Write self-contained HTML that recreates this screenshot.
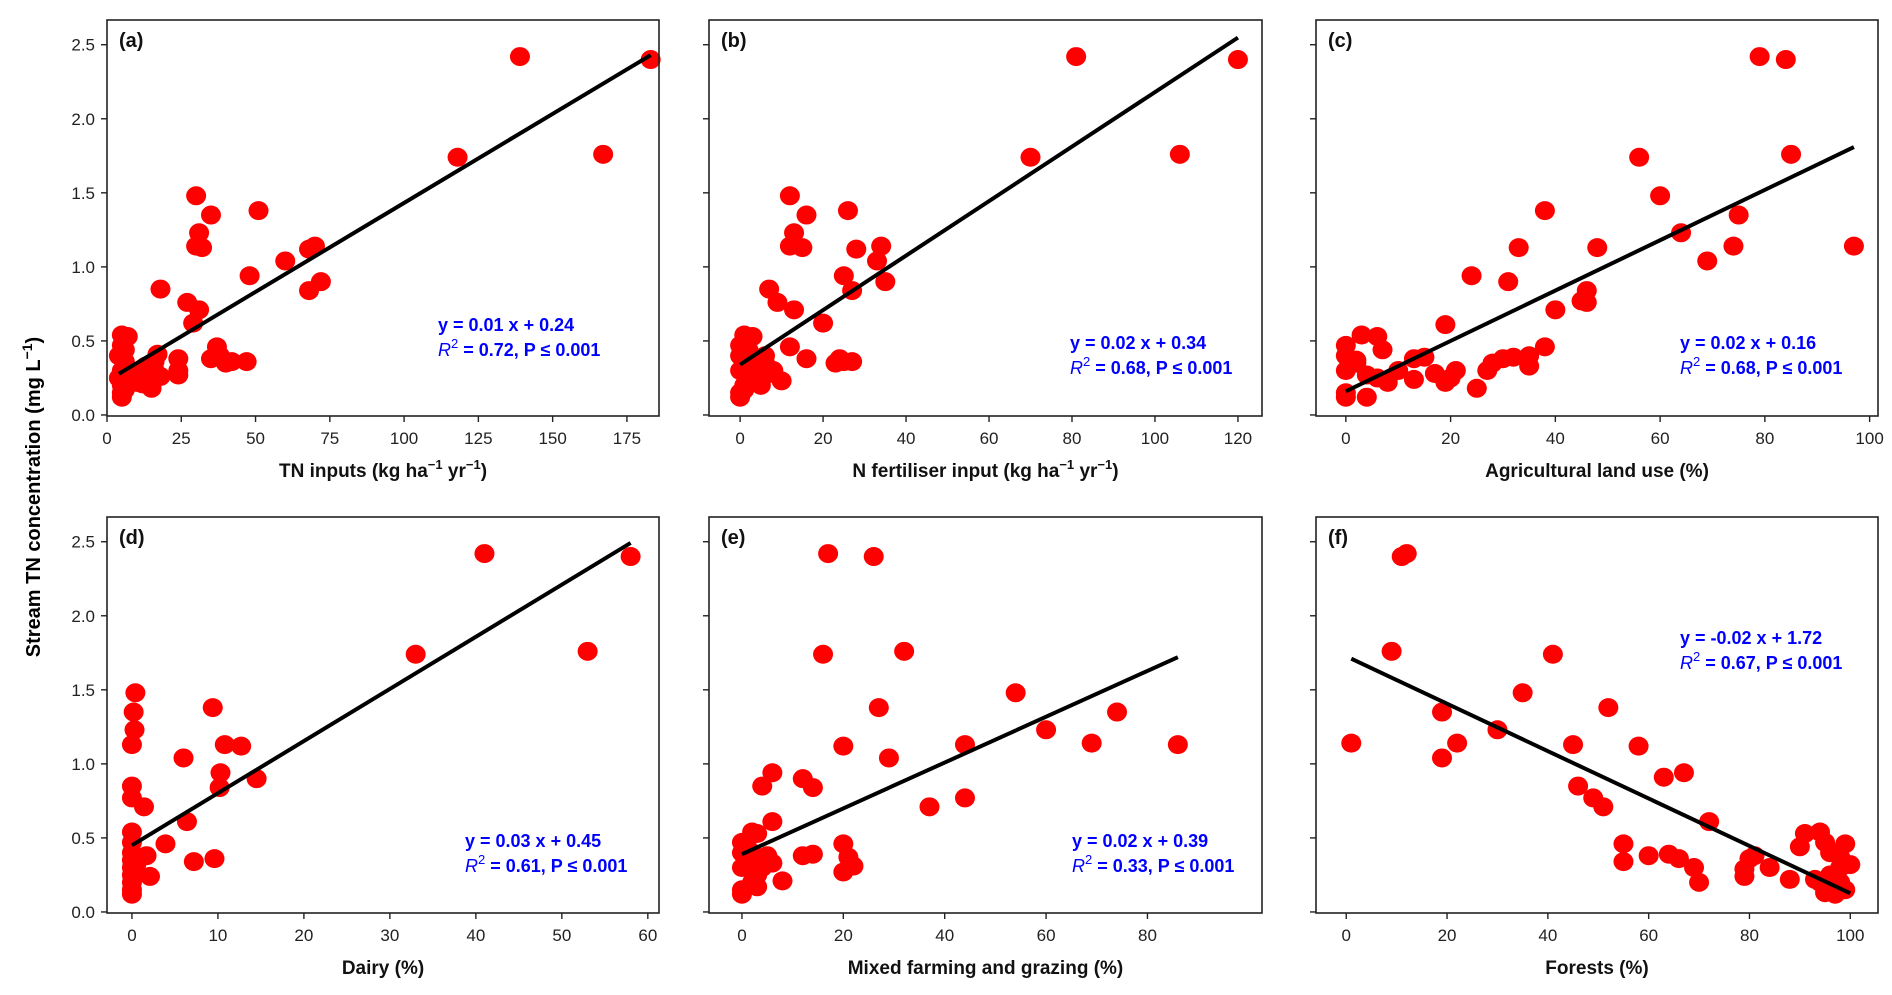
<!DOCTYPE html>
<html><head><meta charset="utf-8">
<style>
html,body{margin:0;padding:0;background:#fff;}
svg{display:block;font-family:"Liberation Sans",Arial,sans-serif;}
</style></head>
<body>
<svg id="fig" width="1892" height="995" viewBox="0 0 1892 995" xmlns="http://www.w3.org/2000/svg">
<text x="0" y="0" transform="translate(40,497) rotate(-90)" text-anchor="middle" font-size="20" font-weight="bold">Stream TN concentration (mg L<tspan font-size="14" dy="-8">−1</tspan><tspan dy="8">)</tspan></text>
</svg>
<script>
// ---- data ----
const panelLabels = ["(a)","(b)","(c)","(d)","(e)","(f)"];
const xTitles = ["TN inputs (kg ha|−1| yr|−1|)","N fertiliser input (kg ha|−1| yr|−1|)","Agricultural land use (%)","Dairy (%)","Mixed farming and grazing (%)","Forests (%)"];
const eqLines = ["y = 0.01 x + 0.24","y = 0.02 x + 0.34","y = 0.02 x + 0.16","y = 0.03 x + 0.45","y = 0.02 x + 0.39","y = -0.02 x + 1.72"];
const r2Lines = ["0.72","0.68","0.68","0.61","0.33","0.67"];
const fitSlope = [0.01202,0.0184,0.0170,0.0352,0.01547,-0.0160];
const fitIntercept = [0.23,0.34,0.16,0.45,0.39,1.726];
const yTicks = [0.0,0.5,1.0,1.5,2.0,2.5];
const xTicksA = [0,25,50,75,100,125,150,175];
const xTicksB = [0,20,40,60,80,100,120];
const xTicksC = [0,20,40,60,80,100];
const xTicksD = [0,10,20,30,40,50,60];
const xTicksE = [0,20,40,60,80];
const xTicksF = [0,20,40,60,80,100];
const xA = [183,139,167,118,30,35,51,31,30,32,68,70,60,72,68,48,18,27,31,29,37,35,40,42,47,38,24,24,24,17,16,16,15,15,12,10,8,5,7,5,6,4,6,5,4,5,5,5,6,8,13,18];
const yA = [2.40,2.42,1.76,1.74,1.48,1.35,1.38,1.23,1.14,1.13,1.12,1.14,1.04,0.90,0.84,0.94,0.85,0.76,0.71,0.62,0.46,0.38,0.35,0.36,0.36,0.40,0.38,0.30,0.27,0.41,0.36,0.30,0.24,0.18,0.21,0.22,0.25,0.54,0.53,0.47,0.44,0.40,0.36,0.30,0.25,0.20,0.15,0.12,0.17,0.30,0.33,0.26];
const xB = [120,81,106,70,12,16,26,13,12,15,28,34,33,35,27,25,7,9,13,20,12,16,23,25,27,24,1,3,0,2,0,2,0,3,5,7,10,5,0,0,1,4,6,8,2,1,3,6];
const yB = [2.40,2.42,1.76,1.74,1.48,1.35,1.38,1.23,1.14,1.13,1.12,1.14,1.04,0.90,0.84,0.94,0.85,0.76,0.71,0.62,0.46,0.38,0.35,0.36,0.36,0.38,0.54,0.53,0.47,0.44,0.40,0.36,0.30,0.30,0.25,0.28,0.23,0.20,0.15,0.12,0.17,0.32,0.35,0.30,0.25,0.20,0.37,0.40];
const xC = [79,84,85,56,60,38,75,64,33,48,74,69,97,24,31,46,45,46,40,19,38,3,6,0,7,0,2,0,2,4,0,0,4,8,10,13,15,13,17,19,20,21,25,27,28,30,32,35,35,6];
const yC = [2.42,2.40,1.76,1.74,1.48,1.38,1.35,1.23,1.13,1.13,1.14,1.04,1.14,0.94,0.90,0.84,0.77,0.76,0.71,0.61,0.46,0.54,0.53,0.47,0.44,0.40,0.37,0.30,0.35,0.27,0.15,0.12,0.12,0.22,0.30,0.38,0.39,0.24,0.28,0.22,0.25,0.30,0.18,0.30,0.35,0.38,0.39,0.40,0.33,0.25];
const xD = [58,41,53,33,0.4,0.2,9.4,0.3,0,10.8,12.7,6,10.3,14.5,0,10.2,0,1.4,6.4,0,0,3.9,1.7,9.6,7.2,2.1,0,0,0,0,0,0,0,0.5,0.5];
const yD = [2.40,2.42,1.76,1.74,1.48,1.35,1.38,1.23,1.13,1.13,1.12,1.04,0.94,0.90,0.85,0.84,0.77,0.71,0.61,0.54,0.47,0.46,0.38,0.36,0.34,0.24,0.40,0.35,0.30,0.25,0.20,0.15,0.12,0.32,0.27];
const xE = [17,26,16,32,54,74,27,60,69,86,44,20,29,6,12,4,14,44,37,6,20,0,2,3,1,14,12,21,22,20,8,6,4,0,0,0,0,2,3,4,1,5,3,2];
const yE = [2.42,2.40,1.74,1.76,1.48,1.35,1.38,1.23,1.14,1.13,1.13,1.12,1.04,0.94,0.90,0.85,0.84,0.77,0.71,0.61,0.46,0.47,0.54,0.53,0.44,0.39,0.38,0.37,0.31,0.27,0.21,0.33,0.35,0.40,0.30,0.15,0.12,0.20,0.25,0.30,0.36,0.38,0.17,0.40];
const xF = [11,12,9,41,1,35,52,19,30,22,45,58,19,67,63,46,49,51,72,55,60,64,55,66,69,70,79,80,79,81,84,88,90,91,94,95,97,98,99,98,96,94,93,95,97,99,98,96,100];
const yF = [2.40,2.42,1.76,1.74,1.14,1.48,1.38,1.35,1.23,1.14,1.13,1.12,1.04,0.94,0.91,0.85,0.77,0.71,0.61,0.46,0.38,0.39,0.34,0.36,0.30,0.20,0.29,0.36,0.24,0.38,0.30,0.22,0.44,0.53,0.54,0.47,0.40,0.37,0.46,0.30,0.25,0.20,0.22,0.13,0.12,0.15,0.20,0.40,0.32];

const NS = "http://www.w3.org/2000/svg";
const svg = document.getElementById('fig');
function mk(tag, attrs, parent){const e=document.createElementNS(NS,tag);for(const k in attrs)e.setAttribute(k,attrs[k]);(parent||svg).appendChild(e);return e;}

const panels = [
 {L:107,R:659,T:20,B:416,xmin:0,xmax:185.8,xs:xA,ys:yA,ticks:xTicksA,eqx:438,eqy:331},
 {L:709,R:1262,T:20,B:416,xmin:-7.5,xmax:125.8,xs:xB,ys:yB,ticks:xTicksB,eqx:1070,eqy:349},
 {L:1316,R:1878,T:20,B:416,xmin:-5.7,xmax:101.6,xs:xC,ys:yC,ticks:xTicksC,eqx:1680,eqy:349},
 {L:107,R:659,T:517,B:913,xmin:-2.9,xmax:61.3,xs:xD,ys:yD,ticks:xTicksD,eqx:465,eqy:847},
 {L:709,R:1262,T:517,B:913,xmin:-6.5,xmax:102.6,xs:xE,ys:yE,ticks:xTicksE,eqx:1072,eqy:847},
 {L:1316,R:1878,T:517,B:913,xmin:-6,xmax:105.5,xs:xF,ys:yF,ticks:xTicksF,eqx:1680,eqy:644}
];
const ymin=-0.007, ymax=2.667;

panels.forEach((p,i)=>{
  const g = mk('g',{});
  
  
  const sx = v => p.L + (v-p.xmin)/(p.xmax-p.xmin)*(p.R-p.L);
  const sy = v => p.B - (v-ymin)/(ymax-ymin)*(p.B-p.T);
  const pts = mk('g',{},g);
  
  
  for(let k=0;k<p.xs.length;k++){
    const c = mk('ellipse',{cx:sx(p.xs[k]),cy:sy(p.ys[k]),rx:10,ry:9.5,fill:'#ff0000'},pts);
    
    
  }
  const x0 = Math.min(...p.xs), x1 = Math.max(...p.xs);
  const ln = mk('line',{x1:sx(x0),y1:sy(fitSlope[i]*x0+fitIntercept[i]),x2:sx(x1),y2:sy(fitSlope[i]*x1+fitIntercept[i]),stroke:'#000','stroke-width':4},g);
  
  
  const fr = mk('rect',{x:p.L,y:p.T,width:p.R-p.L,height:p.B-p.T,fill:'none',stroke:'#222','stroke-width':1.6},g);
  
  
  yTicks.forEach(t=>{
    const y=sy(t);
    mk('line',{x1:p.L-6,y1:y,x2:p.L,y2:y,stroke:'#222','stroke-width':1.4},g);
    if(i%3===0){
      const tx = mk('text',{x:p.L-12,y:y+6,'text-anchor':'end','font-size':17,fill:'#222'},g);
      tx.textContent = t.toFixed(1);
      
      
    }
  });
  p.ticks.forEach(t=>{
    const x=sx(t);
    mk('line',{x1:x,y1:p.B,x2:x,y2:p.B+6,stroke:'#222','stroke-width':1.4},g);
    const tx = mk('text',{x:x,y:p.B+28,'text-anchor':'middle','font-size':17,fill:'#222'},g);
    tx.textContent = String(t);
    
    
  });
  const xt = mk('text',{x:(p.L+p.R)/2,y:p.B+61,'text-anchor':'middle','font-size':19,'font-weight':'bold',fill:'#111'},g);
  
  
  xTitles[i].split('|').forEach((part,j)=>{
    const ts = mk('tspan',{},xt);
    if(j%2===1){ts.setAttribute('font-size','13');ts.setAttribute('dy','-8');}
    else if(j>0){ts.setAttribute('dy','8');}
    ts.textContent = part;
  });
  const pl = mk('text',{x:p.L+12,y:p.T+27,'font-size':20,'font-weight':'bold',fill:'#111'},g);
  pl.textContent = panelLabels[i];
  
  
  const e1 = mk('text',{x:p.eqx,y:p.eqy,'font-size':18,'font-weight':'bold',fill:'#0000ff'},g);
  e1.textContent = eqLines[i];
  
  
  const e2 = mk('text',{x:p.eqx,y:p.eqy+25,'font-size':18,'font-weight':'bold',fill:'#0000ff'},g);
  
  
  const a = mk('tspan',{'font-style':'italic','font-weight':'normal'},e2); a.textContent='R';
  const b = mk('tspan',{'font-size':13,'font-weight':'normal',dy:-8},e2); b.textContent='2';
  const c = mk('tspan',{dy:8},e2); c.textContent=' = '+r2Lines[i]+', P ≤ 0.001';
});
</script>
</body></html>
